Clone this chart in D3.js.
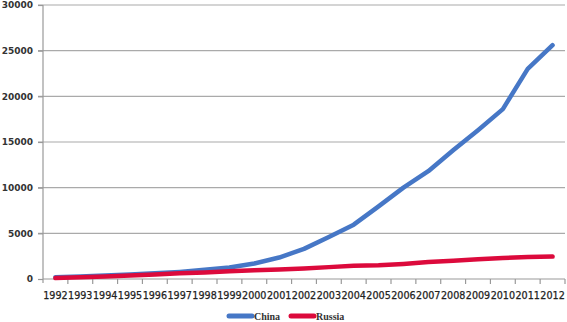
<!DOCTYPE html>
<html>
<head>
<meta charset="UTF-8">
<script src="https://d3js.org/d3.v7.min.js"></script>
<style>
  body { margin: 0; background: #fff; }
  svg { display: block; }
  .tick text { font-family: "DejaVu Sans", Verdana, sans-serif; font-weight: bold; fill: #333; }
  .xlab text { font-family: "DejaVu Sans", Verdana, sans-serif; fill: #222; stroke: #222; stroke-width: 0.25px; }
  .legend text { font-family: "Liberation Serif", "Times New Roman", serif; font-weight: bold; font-size: 10px; fill: #333; }
</style>
</head>
<body>
<svg width="567" height="322"></svg>
<script>
  const years = d3.range(1992, 2013).map(String);
  const china = [200, 280, 370, 480, 620, 780, 1000, 1250, 1700, 2350, 3300,
                 4600, 5950, 7950, 10000, 11800, 14100, 16300, 18600, 23000, 25600];
  const russia = [100, 180, 280, 380, 500, 620, 720, 850, 950, 1050, 1150,
                  1300, 1450, 1500, 1650, 1850, 2000, 2150, 2300, 2400, 2450];
  const yTicks = [0, 5000, 10000, 15000, 20000, 25000, 30000];

  const series = [
    { name: "China", values: china, color: "#4677c6" },
    { name: "Russia", values: russia, color: "#dc0a3c" }
  ];

  const svg = d3.select("svg");
  const plotL = 43, plotR = 565, plotT = 5, plotB = 279;

  const x = d3.scaleBand().domain(years).range([plotL, plotR]);
  const y = d3.scaleLinear().domain([0, 30000]).range([plotB, plotT]);

  // gridlines
  svg.append("g")
    .selectAll("line")
    .data(yTicks.slice(1))
    .join("line")
    .attr("x1", plotL - 5).attr("x2", plotR)
    .attr("y1", d => y(d)).attr("y2", d => y(d))
    .attr("stroke", "#aaaaaa").attr("stroke-width", 1.2);

  // y axis
  const yAxis = svg.append("g")
    .attr("transform", `translate(${plotL},0)`)
    .call(d3.axisLeft(y).tickValues(yTicks).tickSize(5).tickPadding(5).tickFormat(d3.format("d")));
  yAxis.selectAll(".tick text").attr("font-size", 9);
  yAxis.select(".domain").attr("d", `M0,${plotT}V${plotB + 4}`);
  yAxis.selectAll("path, line").attr("stroke", "#999").attr("stroke-width", 1.2);

  // x axis, ticks between categories
  const xAxis = svg.append("g")
    .attr("class", "xlab")
    .attr("transform", `translate(0,${plotB})`);
  xAxis.append("line")
    .attr("x1", plotL).attr("x2", plotR)
    .attr("stroke", "#999").attr("stroke-width", 1.2);
  xAxis.selectAll(".tk")
    .data(years)
    .join("line")
    .attr("class", "tk")
    .attr("x1", d => x(d) + x.bandwidth())
    .attr("x2", d => x(d) + x.bandwidth())
    .attr("y1", 0).attr("y2", 5)
    .attr("stroke", "#999").attr("stroke-width", 1.2);
  xAxis.selectAll("text")
    .data(years)
    .join("text")
    .attr("x", d => x(d) + x.bandwidth() / 2)
    .attr("y", 19.5)
    .attr("text-anchor", "middle")
    .attr("font-size", 9.6)
    .text(d => d);

  // lines
  const line = d3.line()
    .x((d, i) => x(years[i]) + x.bandwidth() / 2)
    .y(d => y(d));

  svg.append("g")
    .selectAll("path")
    .data(series)
    .join("path")
    .attr("d", d => line(d.values))
    .attr("fill", "none")
    .attr("stroke", d => d.color)
    .attr("stroke-width", 4.5)
    .attr("stroke-linejoin", "round")
    .attr("stroke-linecap", "round");

  // legend
  const legend = svg.append("g").attr("class", "legend");
  const legX = [228, 290];
  const item = legend.selectAll("g")
    .data(series)
    .join("g")
    .attr("transform", (d, i) => `translate(${legX[i]},316)`);
  item.append("line")
    .attr("x1", 1).attr("x2", 24)
    .attr("stroke", d => d.color)
    .attr("stroke-width", 5)
    .attr("stroke-linecap", "round");
  item.append("text")
    .attr("x", 26).attr("y", 4)
    .text(d => d.name);
</script>
</body>
</html>
